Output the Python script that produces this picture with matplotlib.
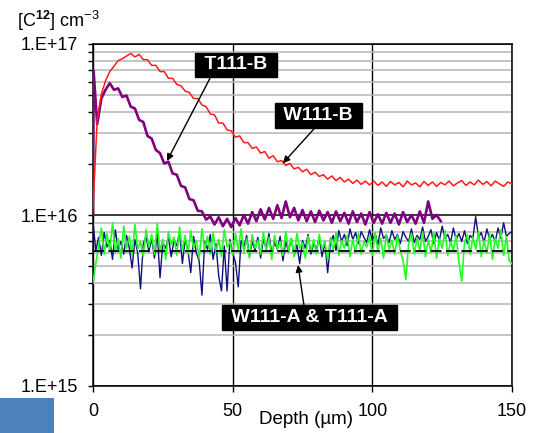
import numpy as np
import matplotlib
matplotlib.use("Agg")
import matplotlib.pyplot as plt
from matplotlib.patches import Rectangle
from matplotlib.ticker import LogLocator, NullFormatter

plt.rcParams['font.family'] = ['Liberation Sans', 'DejaVu Sans']
plt.rcParams['mathtext.fontset'] = 'custom'
plt.rcParams['mathtext.rm'] = 'Liberation Sans'
plt.rcParams['mathtext.it'] = 'Liberation Sans:italic'
plt.rcParams['mathtext.bf'] = 'Liberation Sans:bold'

# ---------- 1. PROFILE DATA ----------
step_b = 1.5  # depth sampling of the B profiles, um
step_a = 1.0  # depth sampling of the A profiles, um

# red curve (W111-B), units of 1e16 cm-3, depth 0..150
w111b = [1.1, 3.6, 5.1, 6.1, 6.9, 7.4, 8.0, 8.2, 8.5, 8.8,
         8.4, 8.7, 8.1, 8.1, 7.5, 7.5, 6.9, 6.9, 6.3, 6.3,
         5.8, 5.7, 5.3, 5.2, 4.8, 4.8, 4.4, 4.3, 3.9, 3.85,
         3.45, 3.45, 3.15, 3.1, 2.85, 2.9, 2.65, 2.65, 2.45, 2.5,
         2.3, 2.35, 2.15, 2.22, 2.05, 2.08, 1.95, 2.0, 1.86, 1.9,
         1.79, 1.85, 1.72, 1.78, 1.68, 1.72, 1.62, 1.69, 1.59, 1.66,
         1.56, 1.62, 1.53, 1.6, 1.51, 1.58, 1.5, 1.58, 1.49, 1.56,
         1.47, 1.57, 1.5, 1.55, 1.46, 1.58, 1.5, 1.54, 1.46, 1.57,
         1.49, 1.56, 1.47, 1.55, 1.5, 1.58, 1.48, 1.54, 1.59, 1.49,
         1.56, 1.5, 1.6, 1.51, 1.57, 1.48, 1.58, 1.52, 1.47, 1.56,
         1.52]

# purple curve (T111-B), units of 1e16 cm-3
t111b_onset_depth = [0.0, 0.2]
t111b_onset = [1.0, 7.0]
t111b = [3.4, 4.8, 5.4, 5.9, 5.4, 5.5, 4.9, 5.0, 4.3, 4.2,      # 1.5 .. 15
         3.6, 3.5, 2.9, 2.8, 2.4, 2.3, 2.0, 2.05, 1.75, 1.72,   # 16.5 .. 30
         1.48, 1.45, 1.24, 1.22, 1.06, 1.05, 0.94, 0.98, 0.88, 0.97,
         0.86, 0.95, 0.85, 0.96, 0.87, 1.0, 0.89, 1.04, 0.92, 1.08,
         0.94, 1.1, 0.95, 1.14, 0.96, 1.2, 0.97, 1.1, 0.93, 1.07,
         0.92, 1.05, 0.91, 1.06, 0.93, 1.04, 0.9, 1.05, 0.92, 1.03,
         0.89, 1.05, 0.91, 1.02, 0.88, 1.04, 0.9, 1.01, 0.89, 1.03,
         0.9, 1.02, 0.88, 1.04, 0.91, 1.0, 0.89, 1.05, 0.9, 1.2,
         0.95, 1.0, 0.92]

# navy curve (W111-A), units of 1e15 cm-3, depth 0..150
w111a = [9.1, 6.2, 7.4, 5.8, 7.9, 6.5, 7.1, 5.5, 8.2, 6.3,
         7.0, 5.9, 7.6, 6.4, 4.9, 7.2, 6.0, 3.7, 6.8, 7.5,
         6.1, 7.3, 5.6, 7.8, 4.3, 6.9, 6.4, 7.4, 5.7, 7.1,
         6.6, 8.0, 5.2, 7.2, 6.2, 4.6, 7.5, 6.0, 5.4, 3.4,
         7.0, 6.3, 7.7, 5.5, 6.8, 4.4, 3.6, 6.6, 3.6, 7.2,
         6.0, 5.3, 3.8, 7.1, 6.5, 7.6, 5.7, 7.0, 6.2, 7.4,
         5.6, 7.2, 6.4, 7.8, 5.9, 6.9, 6.3, 7.5, 5.4, 7.0,
         6.1, 7.3, 5.8, 6.7, 5.2, 7.1, 6.4, 7.7, 5.9, 6.8,
         6.3, 7.4, 5.7, 7.0, 4.6, 6.9, 7.6, 6.2, 8.1, 7.0,
         7.7, 6.6, 8.3, 7.2, 7.9, 6.8, 8.0, 7.4, 6.9, 8.2,
         7.1, 7.8, 6.7, 8.4, 7.3, 7.6, 6.9, 8.1, 7.2, 7.7,
         6.8, 8.0, 7.4, 7.0, 8.3, 6.9, 7.6, 7.2, 8.5, 7.0,
         7.5, 8.2, 6.8, 7.9, 7.1, 8.6, 7.3, 7.7, 6.9, 8.4,
         7.2, 7.8, 7.0, 8.1, 6.8, 7.6, 7.3, 9.8, 7.4, 7.9,
         6.9, 8.3, 7.2, 7.7, 7.0, 8.4, 7.3, 9.0, 7.5, 7.8,
         8.0]

# green curve (T111-A), units of 1e15 cm-3, depth 0..150
t111a = [4.0, 5.2, 6.6, 8.4, 5.9, 7.8, 6.2, 9.0, 6.0, 7.3,
         5.6, 8.6, 6.4, 7.5, 5.8, 8.8, 6.3, 7.0, 5.7, 8.2,
         6.5, 7.7, 5.9, 8.9, 6.1, 7.2, 5.5, 8.0, 6.7, 7.4,
         5.8, 8.5, 6.2, 7.6, 5.9, 8.1, 6.4, 7.1, 5.6, 8.3,
         6.3, 7.5, 5.9, 7.9, 6.0, 7.2, 5.7, 8.2, 6.5, 7.0,
         5.8, 7.8, 6.2, 8.3, 6.0, 7.3, 5.6, 7.7, 6.4, 7.1,
         5.9, 7.9, 6.1, 7.4, 5.5, 7.6, 6.3, 7.0, 5.8, 8.0,
         6.2, 7.3, 5.7, 7.8, 6.4, 6.9, 5.6, 7.5, 6.1, 7.2,
         5.9, 7.7, 6.3, 7.0, 5.5, 7.4, 6.2, 7.9, 5.8, 7.1,
         6.4, 7.6, 5.7, 7.2, 6.0, 7.8, 5.9, 7.0, 6.5, 7.5,
         5.8, 7.9, 6.1, 7.3, 5.6, 7.7, 6.3, 7.1, 5.9, 7.6,
         6.2, 5.4, 4.2, 6.8, 7.8, 5.9, 7.4, 6.1, 8.0, 5.7,
         7.2, 6.0, 7.9, 5.6, 7.3, 6.4, 8.1, 5.8, 7.0, 6.2,
         7.6, 5.3, 4.1, 6.9, 7.7, 5.9, 7.4, 6.3, 8.0, 5.7,
         7.1, 6.0, 7.8, 5.5, 7.3, 6.4, 8.2, 5.8, 7.5, 5.4,
         5.2]

level_a = 6.2e15  # dashed reference level

ytick_vals = [1e15, 1e16, 1e17]
ytick_text = ["1.E+15", "1.E+16", "1.E+17"]
xtick_vals = [0, 50, 100, 150]

d_w111b = np.arange(len(w111b)) * step_b
d_t111b = np.concatenate([t111b_onset_depth, (1 + np.arange(len(t111b))) * step_b])
v_t111b = np.concatenate([t111b_onset, t111b])
d_w111a = np.arange(len(w111a)) * step_a
d_t111a = np.arange(len(t111a)) * step_a

# ---------- 2. FIGURE ----------
fig = plt.figure(figsize=(5.39, 4.33), dpi=100)
ax = fig.add_axes([93/539, 1-386/433, 419/539, 342/433])

ax.plot(d_w111a, np.array(w111a)*1e15, color="#10107f", lw=1.0, zorder=3)
ax.plot(d_t111a, np.array(t111a)*1e15, color="#22ff22", lw=1.2, zorder=4)
ax.axhline(level_a, color="black", lw=1.3, dashes=(6, 2.5), zorder=5)
ax.plot(d_t111b, v_t111b*1e16, color="#800080", lw=1.9, zorder=6)
ax.plot(d_w111b, np.array(w111b)*1e16, color="#ff1a1a", lw=1.1, zorder=7)

ax.set_yscale("log")
ax.set_xlim(0, 150)
ax.set_ylim(1e15, 1e17)
ax.set_xticks(xtick_vals)
ax.set_yticks(ytick_vals)
ax.set_yticklabels(ytick_text)
ax.yaxis.set_minor_locator(LogLocator(base=10, subs=np.arange(2, 10)))
ax.yaxis.set_minor_formatter(NullFormatter())

ax.set_axisbelow(True)
ax.yaxis.grid(True, which="minor", color="#b4b4b4", lw=1.1)
ax.yaxis.grid(True, which="major", color="black", lw=1.1)
ax.xaxis.grid(True, which="major", color="black", lw=1.0)
for s in ax.spines.values():
    s.set_linewidth(1.1)
    s.set_color("black")

ax.tick_params(axis="y", which="both", direction="out", length=3.6, width=1.0,
               labelsize=13, pad=7)
ax.tick_params(axis="x", direction="out", length=4.5, width=1.0,
               labelsize=13, pad=8)

ax.set_xlabel("Depth (µm)", fontsize=13.5, va="center")
ax.xaxis.set_label_coords(0.508, -0.099)
fig.text(17/539, 1-27/433, r"[C$^{\mathbf{12}}$] cm$^{-3}$", fontsize=13,
         ha="left", va="baseline")

# ---------- 3. CALLOUTS ----------
box = dict(boxstyle="square,pad=0.2", fc="black", ec="black")
arrow = dict(arrowstyle="-|>", color="black", lw=1.0, mutation_scale=10,
             shrinkA=0, shrinkB=0)
ax.annotate(" T111-B ", xy=(26.5, 2.07e16), xytext=(51.2, 7.54e16),
            color="white", fontsize=14, fontweight="bold", ha="center",
            va="center", bbox=box, zorder=10,
            arrowprops=dict(arrow, relpos=(0.18, 0.0)))
ax.annotate(" W111-B ", xy=(68.0, 2.01e16), xytext=(80.7, 3.82e16),
            color="white", fontsize=14, fontweight="bold", ha="center",
            va="center", bbox=box, zorder=10,
            arrowprops=dict(arrow, relpos=(0.5, 0.0)))
ax.annotate(" W111-A & T111-A ", xy=(73.4, 5.1e15), xytext=(77.5, 2.52e15),
            color="white", fontsize=14, fontweight="bold", ha="center",
            va="center", bbox=box, zorder=10,
            arrowprops=dict(arrow, relpos=(0.47, 1.0)))

fig.patches.append(Rectangle((0, 0), 54/539, 35/433, transform=fig.transFigure,
                             facecolor="#4f81bd", edgecolor="none"))

fig.savefig("out.png", dpi=100)
